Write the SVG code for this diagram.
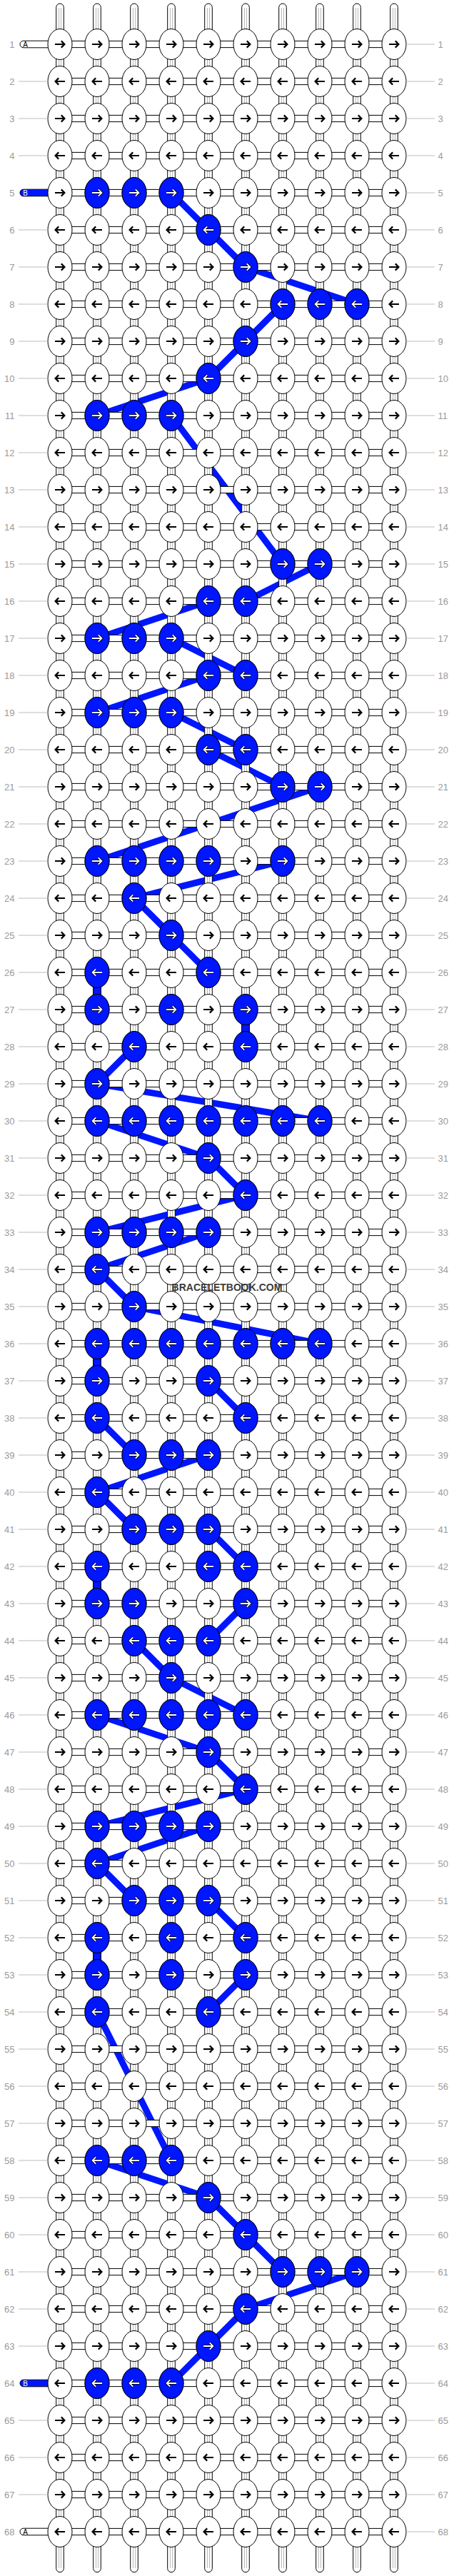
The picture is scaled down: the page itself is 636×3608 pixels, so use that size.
<svg xmlns="http://www.w3.org/2000/svg" width="636" height="3608" viewBox="0 0 636 3608">
<style>
.kw{fill:#fff;stroke:#000;stroke-width:1}
.kb{fill:#0016ff;stroke:#000;stroke-width:1}
.ab{fill:none;stroke:#000;stroke-width:2.2}
.ao{fill:none;stroke:#000;stroke-width:3.5}
.ai{fill:none;stroke:#fff;stroke-width:1.8}
.cn{fill:#fff;stroke:#000;stroke-width:1}
.cb{fill:#0016ff;stroke:#000;stroke-width:1}
.gl{fill:none;stroke:#b8b8b8;stroke-width:1}
.th{fill:none;stroke:#0016ff;stroke-width:9;stroke-linejoin:round}
.lg{fill:none;stroke:#bdbdbd;stroke-width:1}
.ll,.lr{font-family:"Liberation Sans",Arial,sans-serif;font-size:13px;fill:#9a9a9a}
.ll{text-anchor:end}
.sl{font-family:"Liberation Sans",Arial,sans-serif;font-size:10px}
.wm{font-family:"Liberation Sans",Arial,sans-serif;font-size:14px;font-weight:bold;fill:#3c3c3c;text-anchor:middle}
</style>
<defs>
<path id="pr" d="M-7 0H5.5M1.8-4.6L6.4 0 1.8 4.6"/>
<path id="pl" d="M7 0H-5.5M-1.8-4.6L-6.4 0-1.8 4.6"/>
<g id="wR"><ellipse class="kw" rx="17" ry="21.5"/><use href="#pr" class="ab"/></g>
<g id="wL"><ellipse class="kw" rx="17" ry="21.5"/><use href="#pl" class="ab"/></g>
<g id="bR"><ellipse class="kb" rx="17" ry="21.5"/><use href="#pr" class="ao"/><use href="#pr" class="ai"/></g>
<g id="bL"><ellipse class="kb" rx="17" ry="21.5"/><use href="#pl" class="ao"/><use href="#pl" class="ai"/></g>
<g id="KR"><use href="#wR" x="84"/><use href="#wR" x="136"/><use href="#wR" x="188"/><use href="#wR" x="240"/><use href="#wR" x="292"/><use href="#wR" x="344"/><use href="#wR" x="396"/><use href="#wR" x="448"/><use href="#wR" x="500"/><use href="#wR" x="552"/></g>
<g id="KL"><use href="#wL" x="84"/><use href="#wL" x="136"/><use href="#wL" x="188"/><use href="#wL" x="240"/><use href="#wL" x="292"/><use href="#wL" x="344"/><use href="#wL" x="396"/><use href="#wL" x="448"/><use href="#wL" x="500"/><use href="#wL" x="552"/></g>
<rect id="h" class="cn" x="12" y="-4.6" width="28" height="9.2"/>
<g id="v"><rect class="cn" x="-5.3" y="17" width="10.6" height="18"/><path class="gl" d="M-1.5 17V35M1.5 17V35"/></g>
<rect id="vb" class="cb" x="-5.3" y="17" width="10.6" height="18"/>
<g id="H9"><use href="#h" x="84"/><use href="#h" x="136"/><use href="#h" x="188"/><use href="#h" x="240"/><use href="#h" x="292"/><use href="#h" x="344"/><use href="#h" x="396"/><use href="#h" x="448"/><use href="#h" x="500"/></g>
<g id="V10"><use href="#v" x="84"/><use href="#v" x="136"/><use href="#v" x="188"/><use href="#v" x="240"/><use href="#v" x="292"/><use href="#v" x="344"/><use href="#v" x="396"/><use href="#v" x="448"/><use href="#v" x="500"/><use href="#v" x="552"/></g>
<g id="C"><use href="#H9"/><use href="#V10"/></g>
<g id="ts"><path class="cn" d="M-5.3 45V10.3A5.3 5.3 0 0 1 5.3 10.3V45Z"/><path class="gl" d="M-1.5 11V45M1.5 11V45"/></g>
<g id="bs"><path class="cn" d="M-5.3 3560V3597.4A5.3 5.3 0 0 0 5.3 3597.4V3560Z"/><path class="gl" d="M-1.5 3560V3597M1.5 3560V3597"/></g>
<path id="Lb" class="lg" d="M26 0H67M569 0H609"/>
<path id="Lr" class="lg" d="M569 0H609"/>
</defs>
<rect width="636" height="3608" fill="#fff"/>
<g id="connectors">
<path class="th" d="M240 270L292 322L344 374L500 426M396 426L344 478L292 530L136 582M240 582L396 790M448 790L344 842M292 842L136 894M240 894L344 946M292 946L136 998M240 998L344 1050M292 1050L396 1102M448 1102L136 1206M396 1206L188 1258L240 1310L292 1362M188 1466L136 1518L448 1570M136 1570L292 1622L344 1674L136 1726M292 1726L136 1778L188 1830L448 1882M292 1934L344 1986M136 1986L188 2038M292 2038L136 2090L188 2142M292 2142L344 2194M344 2246L292 2298M188 2298L240 2350L344 2402M136 2402L292 2454L344 2506L136 2558M292 2558L136 2610L188 2662M292 2662L344 2714M344 2766L292 2818M136 2818L240 3026M136 3026L292 3078L344 3130L396 3182M500 3182L344 3234L292 3286L240 3338"/>
</g>
<g id="grid">
<use href="#ts" x="84"/><use href="#ts" x="136"/><use href="#ts" x="188"/><use href="#ts" x="240"/><use href="#ts" x="292"/><use href="#ts" x="344"/><use href="#ts" x="396"/><use href="#ts" x="448"/><use href="#ts" x="500"/><use href="#ts" x="552"/>
<use href="#bs" x="84"/><use href="#bs" x="136"/><use href="#bs" x="188"/><use href="#bs" x="240"/><use href="#bs" x="292"/><use href="#bs" x="344"/><use href="#bs" x="396"/><use href="#bs" x="448"/><use href="#bs" x="500"/><use href="#bs" x="552"/>
<use href="#C" y="62"/><use href="#C" y="114"/><use href="#C" y="166"/><use href="#C" y="218"/><use href="#C" y="270"/><use href="#C" y="322"/><use href="#C" y="374"/><use href="#C" y="426"/><use href="#C" y="478"/><use href="#C" y="530"/>
<use href="#C" y="582"/><use href="#C" y="634"/><use href="#C" y="686"/><use href="#C" y="738"/><use href="#C" y="790"/><use href="#C" y="842"/><use href="#C" y="894"/><use href="#C" y="946"/><use href="#C" y="998"/><use href="#C" y="1050"/>
<use href="#C" y="1102"/><use href="#C" y="1154"/><use href="#C" y="1206"/><use href="#C" y="1258"/><use href="#C" y="1310"/><use href="#C" y="1362"/><use href="#C" y="1414"/><use href="#C" y="1466"/><use href="#C" y="1518"/><use href="#C" y="1570"/>
<use href="#C" y="1622"/><use href="#C" y="1674"/><use href="#C" y="1726"/><use href="#C" y="1778"/><use href="#C" y="1830"/><use href="#C" y="1882"/><use href="#C" y="1934"/><use href="#C" y="1986"/><use href="#C" y="2038"/><use href="#C" y="2090"/>
<use href="#C" y="2142"/><use href="#C" y="2194"/><use href="#C" y="2246"/><use href="#C" y="2298"/><use href="#C" y="2350"/><use href="#C" y="2402"/><use href="#C" y="2454"/><use href="#C" y="2506"/><use href="#C" y="2558"/><use href="#C" y="2610"/>
<use href="#C" y="2662"/><use href="#C" y="2714"/><use href="#C" y="2766"/><use href="#C" y="2818"/><use href="#C" y="2870"/><use href="#C" y="2922"/><use href="#C" y="2974"/><use href="#C" y="3026"/><use href="#C" y="3078"/><use href="#C" y="3130"/>
<use href="#C" y="3182"/><use href="#C" y="3234"/><use href="#C" y="3286"/><use href="#C" y="3338"/><use href="#C" y="3390"/><use href="#C" y="3442"/><use href="#C" y="3494"/><use href="#H9" y="3546"/>
<use href="#vb" x="136" y="1362"/><use href="#vb" x="344" y="1414"/><use href="#vb" x="136" y="1882"/><use href="#vb" x="136" y="2194"/><use href="#vb" x="136" y="2714"/>
</g>
<g id="strand-a-top"><rect class="cn" x="28" y="57.2" width="45" height="9.6" rx="4.8"/><text class="sl" x="32.3" y="65.6">A</text></g>
<g id="strand-b-in"><rect class="cb" x="28" y="265.2" width="45" height="9.6" rx="4.8"/><text class="sl" x="32.3" y="273.6" fill="#fff">B</text></g>
<g id="strand-b-out"><rect class="cb" x="28" y="3333.2" width="45" height="9.6" rx="4.8"/><text class="sl" x="32.3" y="3341.6" fill="#fff">B</text></g>
<g id="strand-a-bottom"><rect class="cn" x="28" y="3541.2" width="45" height="9.6" rx="4.8"/><text class="sl" x="32.3" y="3549.6">A</text></g>
<g id="row1" transform="translate(0,62)"><use href="#KR"/><use href="#Lr"/><text class="ll" x="20.5" y="4.5">1</text><text class="lr" x="613.5" y="4.5">1</text></g>
<g id="row2" transform="translate(0,114)"><use href="#KL"/><use href="#Lb"/><text class="ll" x="20.5" y="4.5">2</text><text class="lr" x="613.5" y="4.5">2</text></g>
<g id="row3" transform="translate(0,166)"><use href="#KR"/><use href="#Lb"/><text class="ll" x="20.5" y="4.5">3</text><text class="lr" x="613.5" y="4.5">3</text></g>
<g id="row4" transform="translate(0,218)"><use href="#KL"/><use href="#Lb"/><text class="ll" x="20.5" y="4.5">4</text><text class="lr" x="613.5" y="4.5">4</text></g>
<g id="row5" transform="translate(0,270)"><use href="#KR"/><use href="#bR" x="136"/><use href="#bR" x="188"/><use href="#bR" x="240"/><use href="#Lr"/><text class="ll" x="20.5" y="4.5">5</text><text class="lr" x="613.5" y="4.5">5</text></g>
<g id="row6" transform="translate(0,322)"><use href="#KL"/><use href="#bL" x="292"/><use href="#Lb"/><text class="ll" x="20.5" y="4.5">6</text><text class="lr" x="613.5" y="4.5">6</text></g>
<g id="row7" transform="translate(0,374)"><use href="#KR"/><use href="#bR" x="344"/><use href="#Lb"/><text class="ll" x="20.5" y="4.5">7</text><text class="lr" x="613.5" y="4.5">7</text></g>
<g id="row8" transform="translate(0,426)"><use href="#KL"/><use href="#bL" x="396"/><use href="#bL" x="448"/><use href="#bL" x="500"/><use href="#Lb"/><text class="ll" x="20.5" y="4.5">8</text><text class="lr" x="613.5" y="4.5">8</text></g>
<g id="row9" transform="translate(0,478)"><use href="#KR"/><use href="#bR" x="344"/><use href="#Lb"/><text class="ll" x="20.5" y="4.5">9</text><text class="lr" x="613.5" y="4.5">9</text></g>
<g id="row10" transform="translate(0,530)"><use href="#KL"/><use href="#bL" x="292"/><use href="#Lb"/><text class="ll" x="20.5" y="4.5">10</text><text class="lr" x="613.5" y="4.5">10</text></g>
<g id="row11" transform="translate(0,582)"><use href="#KR"/><use href="#bR" x="136"/><use href="#bR" x="188"/><use href="#bR" x="240"/><use href="#Lb"/><text class="ll" x="20.5" y="4.5">11</text><text class="lr" x="613.5" y="4.5">11</text></g>
<g id="row12" transform="translate(0,634)"><use href="#KL"/><use href="#Lb"/><text class="ll" x="20.5" y="4.5">12</text><text class="lr" x="613.5" y="4.5">12</text></g>
<g id="row13" transform="translate(0,686)"><use href="#KR"/><use href="#Lb"/><text class="ll" x="20.5" y="4.5">13</text><text class="lr" x="613.5" y="4.5">13</text></g>
<g id="row14" transform="translate(0,738)"><use href="#KL"/><use href="#Lb"/><text class="ll" x="20.5" y="4.5">14</text><text class="lr" x="613.5" y="4.5">14</text></g>
<g id="row15" transform="translate(0,790)"><use href="#KR"/><use href="#bR" x="396"/><use href="#bR" x="448"/><use href="#Lb"/><text class="ll" x="20.5" y="4.5">15</text><text class="lr" x="613.5" y="4.5">15</text></g>
<g id="row16" transform="translate(0,842)"><use href="#KL"/><use href="#bL" x="292"/><use href="#bL" x="344"/><use href="#Lb"/><text class="ll" x="20.5" y="4.5">16</text><text class="lr" x="613.5" y="4.5">16</text></g>
<g id="row17" transform="translate(0,894)"><use href="#KR"/><use href="#bR" x="136"/><use href="#bR" x="188"/><use href="#bR" x="240"/><use href="#Lb"/><text class="ll" x="20.5" y="4.5">17</text><text class="lr" x="613.5" y="4.5">17</text></g>
<g id="row18" transform="translate(0,946)"><use href="#KL"/><use href="#bL" x="292"/><use href="#bL" x="344"/><use href="#Lb"/><text class="ll" x="20.5" y="4.5">18</text><text class="lr" x="613.5" y="4.5">18</text></g>
<g id="row19" transform="translate(0,998)"><use href="#KR"/><use href="#bR" x="136"/><use href="#bR" x="188"/><use href="#bR" x="240"/><use href="#Lb"/><text class="ll" x="20.5" y="4.5">19</text><text class="lr" x="613.5" y="4.5">19</text></g>
<g id="row20" transform="translate(0,1050)"><use href="#KL"/><use href="#bL" x="292"/><use href="#bL" x="344"/><use href="#Lb"/><text class="ll" x="20.5" y="4.5">20</text><text class="lr" x="613.5" y="4.5">20</text></g>
<g id="row21" transform="translate(0,1102)"><use href="#KR"/><use href="#bR" x="396"/><use href="#bR" x="448"/><use href="#Lb"/><text class="ll" x="20.5" y="4.5">21</text><text class="lr" x="613.5" y="4.5">21</text></g>
<g id="row22" transform="translate(0,1154)"><use href="#KL"/><use href="#Lb"/><text class="ll" x="20.5" y="4.5">22</text><text class="lr" x="613.5" y="4.5">22</text></g>
<g id="row23" transform="translate(0,1206)"><use href="#KR"/><use href="#bR" x="136"/><use href="#bR" x="188"/><use href="#bR" x="240"/><use href="#bR" x="292"/><use href="#bR" x="396"/><use href="#Lb"/><text class="ll" x="20.5" y="4.5">23</text><text class="lr" x="613.5" y="4.5">23</text></g>
<g id="row24" transform="translate(0,1258)"><use href="#KL"/><use href="#bL" x="188"/><use href="#Lb"/><text class="ll" x="20.5" y="4.5">24</text><text class="lr" x="613.5" y="4.5">24</text></g>
<g id="row25" transform="translate(0,1310)"><use href="#KR"/><use href="#bR" x="240"/><use href="#Lb"/><text class="ll" x="20.5" y="4.5">25</text><text class="lr" x="613.5" y="4.5">25</text></g>
<g id="row26" transform="translate(0,1362)"><use href="#KL"/><use href="#bL" x="136"/><use href="#bL" x="292"/><use href="#Lb"/><text class="ll" x="20.5" y="4.5">26</text><text class="lr" x="613.5" y="4.5">26</text></g>
<g id="row27" transform="translate(0,1414)"><use href="#KR"/><use href="#bR" x="136"/><use href="#bR" x="240"/><use href="#bR" x="344"/><use href="#Lb"/><text class="ll" x="20.5" y="4.5">27</text><text class="lr" x="613.5" y="4.5">27</text></g>
<g id="row28" transform="translate(0,1466)"><use href="#KL"/><use href="#bL" x="188"/><use href="#bL" x="344"/><use href="#Lb"/><text class="ll" x="20.5" y="4.5">28</text><text class="lr" x="613.5" y="4.5">28</text></g>
<g id="row29" transform="translate(0,1518)"><use href="#KR"/><use href="#bR" x="136"/><use href="#Lb"/><text class="ll" x="20.5" y="4.5">29</text><text class="lr" x="613.5" y="4.5">29</text></g>
<g id="row30" transform="translate(0,1570)"><use href="#KL"/><use href="#bL" x="136"/><use href="#bL" x="188"/><use href="#bL" x="240"/><use href="#bL" x="292"/><use href="#bL" x="344"/><use href="#bL" x="396"/><use href="#bL" x="448"/><use href="#Lb"/><text class="ll" x="20.5" y="4.5">30</text><text class="lr" x="613.5" y="4.5">30</text></g>
<g id="row31" transform="translate(0,1622)"><use href="#KR"/><use href="#bR" x="292"/><use href="#Lb"/><text class="ll" x="20.5" y="4.5">31</text><text class="lr" x="613.5" y="4.5">31</text></g>
<g id="row32" transform="translate(0,1674)"><use href="#KL"/><use href="#bL" x="344"/><use href="#Lb"/><text class="ll" x="20.5" y="4.5">32</text><text class="lr" x="613.5" y="4.5">32</text></g>
<g id="row33" transform="translate(0,1726)"><use href="#KR"/><use href="#bR" x="136"/><use href="#bR" x="188"/><use href="#bR" x="240"/><use href="#bR" x="292"/><use href="#Lb"/><text class="ll" x="20.5" y="4.5">33</text><text class="lr" x="613.5" y="4.5">33</text></g>
<g id="row34" transform="translate(0,1778)"><use href="#KL"/><use href="#bL" x="136"/><use href="#Lb"/><text class="ll" x="20.5" y="4.5">34</text><text class="lr" x="613.5" y="4.5">34</text></g>
<g id="row35" transform="translate(0,1830)"><use href="#KR"/><use href="#bR" x="188"/><use href="#Lb"/><text class="ll" x="20.5" y="4.5">35</text><text class="lr" x="613.5" y="4.5">35</text></g>
<g id="row36" transform="translate(0,1882)"><use href="#KL"/><use href="#bL" x="136"/><use href="#bL" x="188"/><use href="#bL" x="240"/><use href="#bL" x="292"/><use href="#bL" x="344"/><use href="#bL" x="396"/><use href="#bL" x="448"/><use href="#Lb"/><text class="ll" x="20.5" y="4.5">36</text><text class="lr" x="613.5" y="4.5">36</text></g>
<g id="row37" transform="translate(0,1934)"><use href="#KR"/><use href="#bR" x="136"/><use href="#bR" x="292"/><use href="#Lb"/><text class="ll" x="20.5" y="4.5">37</text><text class="lr" x="613.5" y="4.5">37</text></g>
<g id="row38" transform="translate(0,1986)"><use href="#KL"/><use href="#bL" x="136"/><use href="#bL" x="344"/><use href="#Lb"/><text class="ll" x="20.5" y="4.5">38</text><text class="lr" x="613.5" y="4.5">38</text></g>
<g id="row39" transform="translate(0,2038)"><use href="#KR"/><use href="#bR" x="188"/><use href="#bR" x="240"/><use href="#bR" x="292"/><use href="#Lb"/><text class="ll" x="20.5" y="4.5">39</text><text class="lr" x="613.5" y="4.5">39</text></g>
<g id="row40" transform="translate(0,2090)"><use href="#KL"/><use href="#bL" x="136"/><use href="#Lb"/><text class="ll" x="20.5" y="4.5">40</text><text class="lr" x="613.5" y="4.5">40</text></g>
<g id="row41" transform="translate(0,2142)"><use href="#KR"/><use href="#bR" x="188"/><use href="#bR" x="240"/><use href="#bR" x="292"/><use href="#Lb"/><text class="ll" x="20.5" y="4.5">41</text><text class="lr" x="613.5" y="4.5">41</text></g>
<g id="row42" transform="translate(0,2194)"><use href="#KL"/><use href="#bL" x="136"/><use href="#bL" x="292"/><use href="#bL" x="344"/><use href="#Lb"/><text class="ll" x="20.5" y="4.5">42</text><text class="lr" x="613.5" y="4.5">42</text></g>
<g id="row43" transform="translate(0,2246)"><use href="#KR"/><use href="#bR" x="136"/><use href="#bR" x="188"/><use href="#bR" x="344"/><use href="#Lb"/><text class="ll" x="20.5" y="4.5">43</text><text class="lr" x="613.5" y="4.5">43</text></g>
<g id="row44" transform="translate(0,2298)"><use href="#KL"/><use href="#bL" x="188"/><use href="#bL" x="240"/><use href="#bL" x="292"/><use href="#Lb"/><text class="ll" x="20.5" y="4.5">44</text><text class="lr" x="613.5" y="4.5">44</text></g>
<g id="row45" transform="translate(0,2350)"><use href="#KR"/><use href="#bR" x="240"/><use href="#Lb"/><text class="ll" x="20.5" y="4.5">45</text><text class="lr" x="613.5" y="4.5">45</text></g>
<g id="row46" transform="translate(0,2402)"><use href="#KL"/><use href="#bL" x="136"/><use href="#bL" x="188"/><use href="#bL" x="240"/><use href="#bL" x="292"/><use href="#bL" x="344"/><use href="#Lb"/><text class="ll" x="20.5" y="4.5">46</text><text class="lr" x="613.5" y="4.5">46</text></g>
<g id="row47" transform="translate(0,2454)"><use href="#KR"/><use href="#bR" x="292"/><use href="#Lb"/><text class="ll" x="20.5" y="4.5">47</text><text class="lr" x="613.5" y="4.5">47</text></g>
<g id="row48" transform="translate(0,2506)"><use href="#KL"/><use href="#bL" x="344"/><use href="#Lb"/><text class="ll" x="20.5" y="4.5">48</text><text class="lr" x="613.5" y="4.5">48</text></g>
<g id="row49" transform="translate(0,2558)"><use href="#KR"/><use href="#bR" x="136"/><use href="#bR" x="188"/><use href="#bR" x="240"/><use href="#bR" x="292"/><use href="#Lb"/><text class="ll" x="20.5" y="4.5">49</text><text class="lr" x="613.5" y="4.5">49</text></g>
<g id="row50" transform="translate(0,2610)"><use href="#KL"/><use href="#bL" x="136"/><use href="#Lb"/><text class="ll" x="20.5" y="4.5">50</text><text class="lr" x="613.5" y="4.5">50</text></g>
<g id="row51" transform="translate(0,2662)"><use href="#KR"/><use href="#bR" x="188"/><use href="#bR" x="240"/><use href="#bR" x="292"/><use href="#Lb"/><text class="ll" x="20.5" y="4.5">51</text><text class="lr" x="613.5" y="4.5">51</text></g>
<g id="row52" transform="translate(0,2714)"><use href="#KL"/><use href="#bL" x="136"/><use href="#bL" x="240"/><use href="#bL" x="344"/><use href="#Lb"/><text class="ll" x="20.5" y="4.5">52</text><text class="lr" x="613.5" y="4.5">52</text></g>
<g id="row53" transform="translate(0,2766)"><use href="#KR"/><use href="#bR" x="136"/><use href="#bR" x="240"/><use href="#bR" x="344"/><use href="#Lb"/><text class="ll" x="20.5" y="4.5">53</text><text class="lr" x="613.5" y="4.5">53</text></g>
<g id="row54" transform="translate(0,2818)"><use href="#KL"/><use href="#bL" x="136"/><use href="#bL" x="292"/><use href="#Lb"/><text class="ll" x="20.5" y="4.5">54</text><text class="lr" x="613.5" y="4.5">54</text></g>
<g id="row55" transform="translate(0,2870)"><use href="#KR"/><use href="#Lb"/><text class="ll" x="20.5" y="4.5">55</text><text class="lr" x="613.5" y="4.5">55</text></g>
<g id="row56" transform="translate(0,2922)"><use href="#KL"/><use href="#Lb"/><text class="ll" x="20.5" y="4.5">56</text><text class="lr" x="613.5" y="4.5">56</text></g>
<g id="row57" transform="translate(0,2974)"><use href="#KR"/><use href="#Lb"/><text class="ll" x="20.5" y="4.5">57</text><text class="lr" x="613.5" y="4.5">57</text></g>
<g id="row58" transform="translate(0,3026)"><use href="#KL"/><use href="#bL" x="136"/><use href="#bL" x="188"/><use href="#bL" x="240"/><use href="#Lb"/><text class="ll" x="20.5" y="4.5">58</text><text class="lr" x="613.5" y="4.5">58</text></g>
<g id="row59" transform="translate(0,3078)"><use href="#KR"/><use href="#bR" x="292"/><use href="#Lb"/><text class="ll" x="20.5" y="4.5">59</text><text class="lr" x="613.5" y="4.5">59</text></g>
<g id="row60" transform="translate(0,3130)"><use href="#KL"/><use href="#bL" x="344"/><use href="#Lb"/><text class="ll" x="20.5" y="4.5">60</text><text class="lr" x="613.5" y="4.5">60</text></g>
<g id="row61" transform="translate(0,3182)"><use href="#KR"/><use href="#bR" x="396"/><use href="#bR" x="448"/><use href="#bR" x="500"/><use href="#Lb"/><text class="ll" x="20.5" y="4.5">61</text><text class="lr" x="613.5" y="4.5">61</text></g>
<g id="row62" transform="translate(0,3234)"><use href="#KL"/><use href="#bL" x="344"/><use href="#Lb"/><text class="ll" x="20.5" y="4.5">62</text><text class="lr" x="613.5" y="4.5">62</text></g>
<g id="row63" transform="translate(0,3286)"><use href="#KR"/><use href="#bR" x="292"/><use href="#Lb"/><text class="ll" x="20.5" y="4.5">63</text><text class="lr" x="613.5" y="4.5">63</text></g>
<g id="row64" transform="translate(0,3338)"><use href="#KL"/><use href="#bL" x="136"/><use href="#bL" x="188"/><use href="#bL" x="240"/><use href="#Lr"/><text class="ll" x="20.5" y="4.5">64</text><text class="lr" x="613.5" y="4.5">64</text></g>
<g id="row65" transform="translate(0,3390)"><use href="#KR"/><use href="#Lb"/><text class="ll" x="20.5" y="4.5">65</text><text class="lr" x="613.5" y="4.5">65</text></g>
<g id="row66" transform="translate(0,3442)"><use href="#KL"/><use href="#Lb"/><text class="ll" x="20.5" y="4.5">66</text><text class="lr" x="613.5" y="4.5">66</text></g>
<g id="row67" transform="translate(0,3494)"><use href="#KR"/><use href="#Lb"/><text class="ll" x="20.5" y="4.5">67</text><text class="lr" x="613.5" y="4.5">67</text></g>
<g id="row68" transform="translate(0,3546)"><use href="#KL"/><use href="#Lr"/><text class="ll" x="20.5" y="4.5">68</text><text class="lr" x="613.5" y="4.5">68</text></g>
<g id="watermark"><text class="wm" x="318" y="1808">BRACELETBOOK.COM</text></g>
</svg>
